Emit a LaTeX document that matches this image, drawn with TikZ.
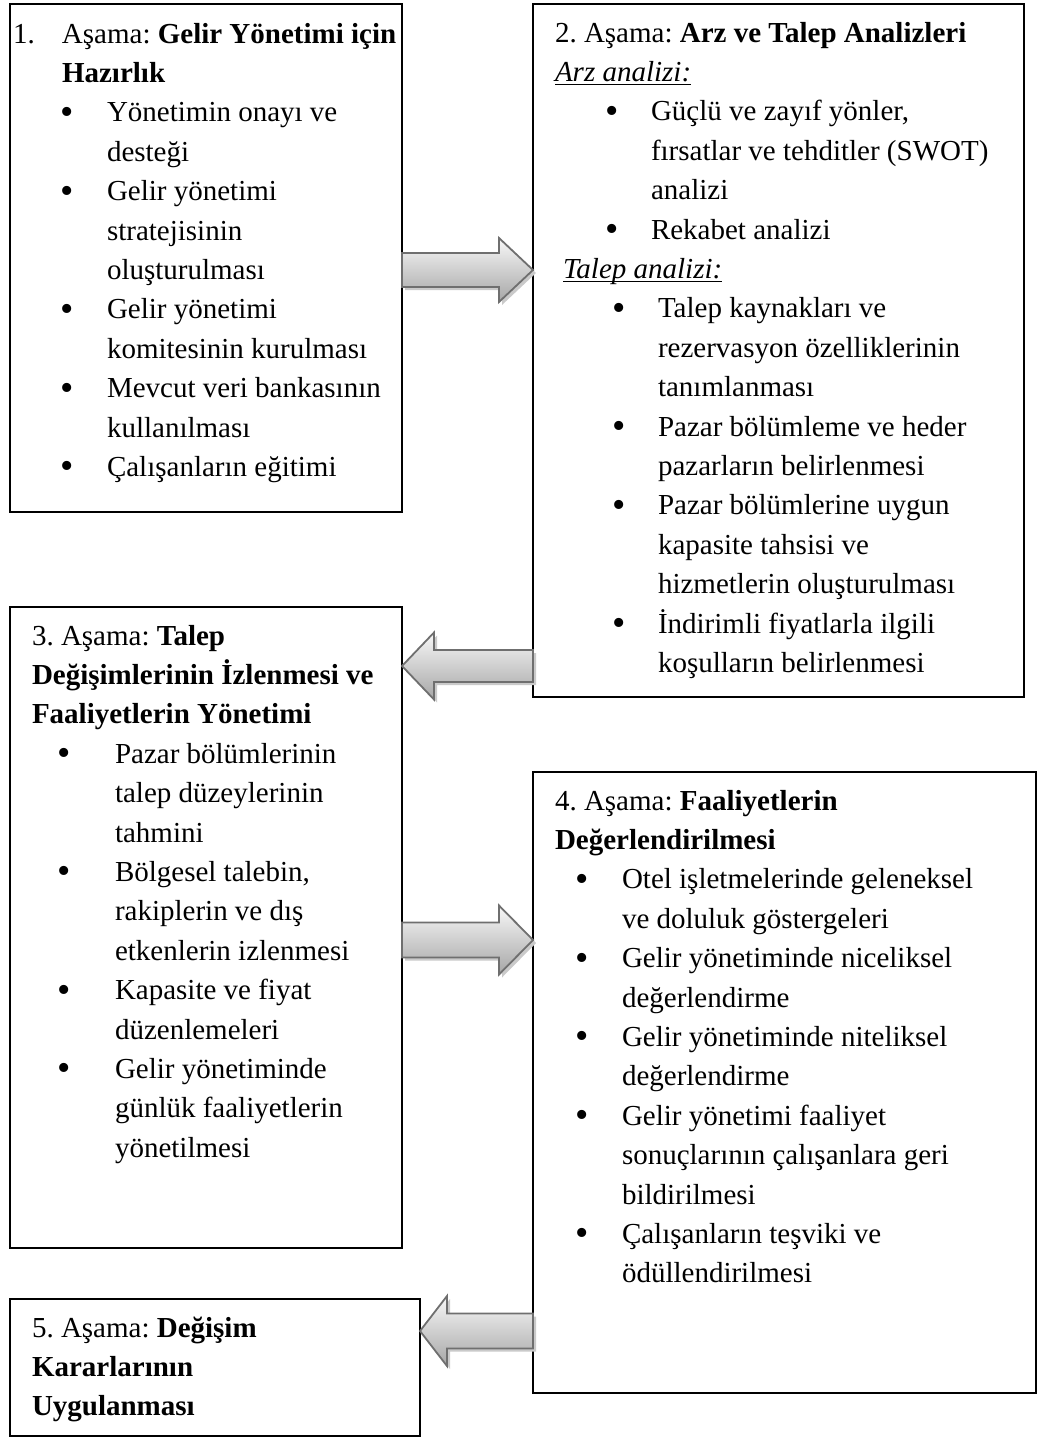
\documentclass[tikz,border=0pt]{standalone}
\usepackage{fontspec}
\setmainfont{Liberation Serif}
\usetikzlibrary{calc}

\definecolor{arrowline}{HTML}{6F6F6F}
\definecolor{arrowtop}{HTML}{F8F8F8}
\definecolor{arrowbot}{HTML}{A6A6A6}
\definecolor{arrowshade}{HTML}{CACACA}

% list helpers: bullet item and continuation line
\newcommand\bigbul{\raisebox{-2.5pt}{\fontsize{38}{38}\selectfont\textbullet}}
\newcommand\bitem[3]{\hspace*{#1}\makebox[#2][l]{\bigbul}#3}
\newcommand\cont[2]{\hspace*{#1}#2}
\newcommand\ulined[1]{\setbox0\hbox{#1}\rlap{\rule[-4pt]{\wd0}{1.4pt}}\box0}
\newcommand\stagetext[1]{\parbox[t]{500pt}{\fontsize{29}{39.4}\selectfont\frenchspacing\setlength\parindent{0pt}#1}}

% block arrow from #1 to tip #2; head length #3 (signed), shaft half width #4, head half width #5
\newcommand\blockarrow[5]{%
  \fill[arrowshade] ($(#1)+(3,{3-(#4)})$) -- ($(#2)+({3-(#3)},{3-(#4)})$) -- ($(#2)+({3-(#3)},{3-(#5)})$) -- ($(#2)+(3,3)$) -- ($(#2)+({3-(#3)},{3+(#5)})$) -- ($(#2)+({3-(#3)},{3+(#4)})$) -- ($(#1)+(3,{3+(#4)})$) -- cycle;
  \draw[arrowbody] ($(#1)+(0,{-(#4)})$) -- ($(#2)+({-(#3)},{-(#4)})$) -- ($(#2)+({-(#3)},{-(#5)})$) -- (#2) -- ($(#2)+({-(#3)},{#5})$) -- ($(#2)+({-(#3)},{#4})$) -- ($(#1)+(0,{#4})$) -- cycle;
}

\tikzset{
  stagebox/.style={draw=black, line width=1.6pt, anchor=north west, inner sep=0pt, outer sep=0pt},
  stagebody/.style={anchor=base west, inner sep=0pt, outer sep=0pt},
  arrowbody/.style={draw=arrowline, line width=1.8pt, top color=arrowtop, bottom color=arrowbot, line join=miter},
}

\begin{document}
\begin{tikzpicture}[x=1pt, y=-1pt]
\useasboundingbox (0,0) rectangle (1038,1438);

% stage frames
\node[stagebox, minimum width=392pt, minimum height=508pt] (b1) at (10,4) {};
\node[stagebox, minimum width=491pt, minimum height=693pt] (b2) at (533,4) {};
\node[stagebox, minimum width=392pt, minimum height=641pt] (b3) at (10,607) {};
\node[stagebox, minimum width=503pt, minimum height=621pt] (b4) at (533,772) {};
\node[stagebox, minimum width=410pt, minimum height=137pt] (b5) at (10,1299) {};

% stage 1
\node[stagebody] (t1) at (13,43) {\stagetext{%
\makebox[49pt][l]{1.}Aşama: \textbf{Gelir Yönetimi için}\\
\cont{49pt}{\textbf{Hazırlık}}\\
\bitem{47pt}{47pt}{Yönetimin onayı ve}\\
\cont{94pt}{desteği}\\
\bitem{47pt}{47pt}{Gelir yönetimi}\\
\cont{94pt}{stratejisinin}\\
\cont{94pt}{oluşturulması}\\
\bitem{47pt}{47pt}{Gelir yönetimi}\\
\cont{94pt}{komitesinin kurulması}\\
\bitem{47pt}{47pt}{Mevcut veri bankasının}\\
\cont{94pt}{kullanılması}\\
\bitem{47pt}{47pt}{Çalışanların eğitimi}}};

% stage 2
\node[stagebody] (t2) at (555,42) {\stagetext{%
2. Aşama: \textbf{Arz ve Talep Analizleri}\\
\ulined{\textit{Arz analizi:}}\\
\bitem{50pt}{46pt}{Güçlü ve zayıf yönler,}\\
\cont{96pt}{fırsatlar ve tehditler (SWOT)}\\
\cont{96pt}{analizi}\\
\bitem{50pt}{46pt}{Rekabet analizi}\\
\cont{8pt}{\ulined{\textit{Talep analizi:}}}\\
\bitem{57pt}{46pt}{Talep kaynakları ve}\\
\cont{103pt}{rezervasyon özelliklerinin}\\
\cont{103pt}{tanımlanması}\\
\bitem{57pt}{46pt}{Pazar bölümleme ve heder}\\
\cont{103pt}{pazarların belirlenmesi}\\
\bitem{57pt}{46pt}{Pazar bölümlerine uygun}\\
\cont{103pt}{kapasite tahsisi ve}\\
\cont{103pt}{hizmetlerin oluşturulması}\\
\bitem{57pt}{46pt}{İndirimli fiyatlarla ilgili}\\
\cont{103pt}{koşulların belirlenmesi}}};

% stage 3
\node[stagebody] (t3) at (32,645) {\stagetext{%
3. Aşama: \textbf{Talep}\\
\textbf{Değişimlerinin İzlenmesi ve}\\
\textbf{Faaliyetlerin Yönetimi}\\
\bitem{25pt}{58pt}{Pazar bölümlerinin}\\
\cont{83pt}{talep düzeylerinin}\\
\cont{83pt}{tahmini}\\
\bitem{25pt}{58pt}{Bölgesel talebin,}\\
\cont{83pt}{rakiplerin ve dış}\\
\cont{83pt}{etkenlerin izlenmesi}\\
\bitem{25pt}{58pt}{Kapasite ve fiyat}\\
\cont{83pt}{düzenlemeleri}\\
\bitem{25pt}{58pt}{Gelir yönetiminde}\\
\cont{83pt}{günlük faaliyetlerin}\\
\cont{83pt}{yönetilmesi}}};

% stage 4
\node[stagebody] (t4) at (555,810) {\stagetext{%
4. Aşama: \textbf{Faaliyetlerin}\\
\textbf{Değerlendirilmesi}\\
\bitem{20pt}{47pt}{Otel işletmelerinde geleneksel}\\
\cont{67pt}{ve doluluk göstergeleri}\\
\bitem{20pt}{47pt}{Gelir yönetiminde niceliksel}\\
\cont{67pt}{değerlendirme}\\
\bitem{20pt}{47pt}{Gelir yönetiminde niteliksel}\\
\cont{67pt}{değerlendirme}\\
\bitem{20pt}{47pt}{Gelir yönetimi faaliyet}\\
\cont{67pt}{sonuçlarının çalışanlara geri}\\
\cont{67pt}{bildirilmesi}\\
\bitem{20pt}{47pt}{Çalışanların teşviki ve}\\
\cont{67pt}{ödüllendirilmesi}}};

% stage 5
\node[stagebody] (t5) at (32,1337) {\stagetext{%
5. Aşama: \textbf{Değişim}\\
\textbf{Kararlarının}\\
\textbf{Uygulanması}}};

% block arrows between the stages
\coordinate (a1s) at (b1.east |- 0,270);
\coordinate (a1t) at (b2.west |- 0,270);
\coordinate (a2s) at (b2.west |- 0,666);
\coordinate (a2t) at (b3.east |- 0,666);
\coordinate (a3s) at (b3.east |- 0,940);
\coordinate (a3t) at (b4.west |- 0,940);
\coordinate (a4s) at (b4.west |- 0,1331);
\coordinate (a4t) at (b5.east |- 0,1331);
\blockarrow{a1s}{a1t}{34}{17}{32}
\blockarrow{a2s}{a2t}{-32}{16}{33.5}
\blockarrow{a3s}{a3t}{34}{17.5}{34.5}
\blockarrow{a4s}{a4t}{-27}{17.5}{35}
\end{tikzpicture}
\end{document}
